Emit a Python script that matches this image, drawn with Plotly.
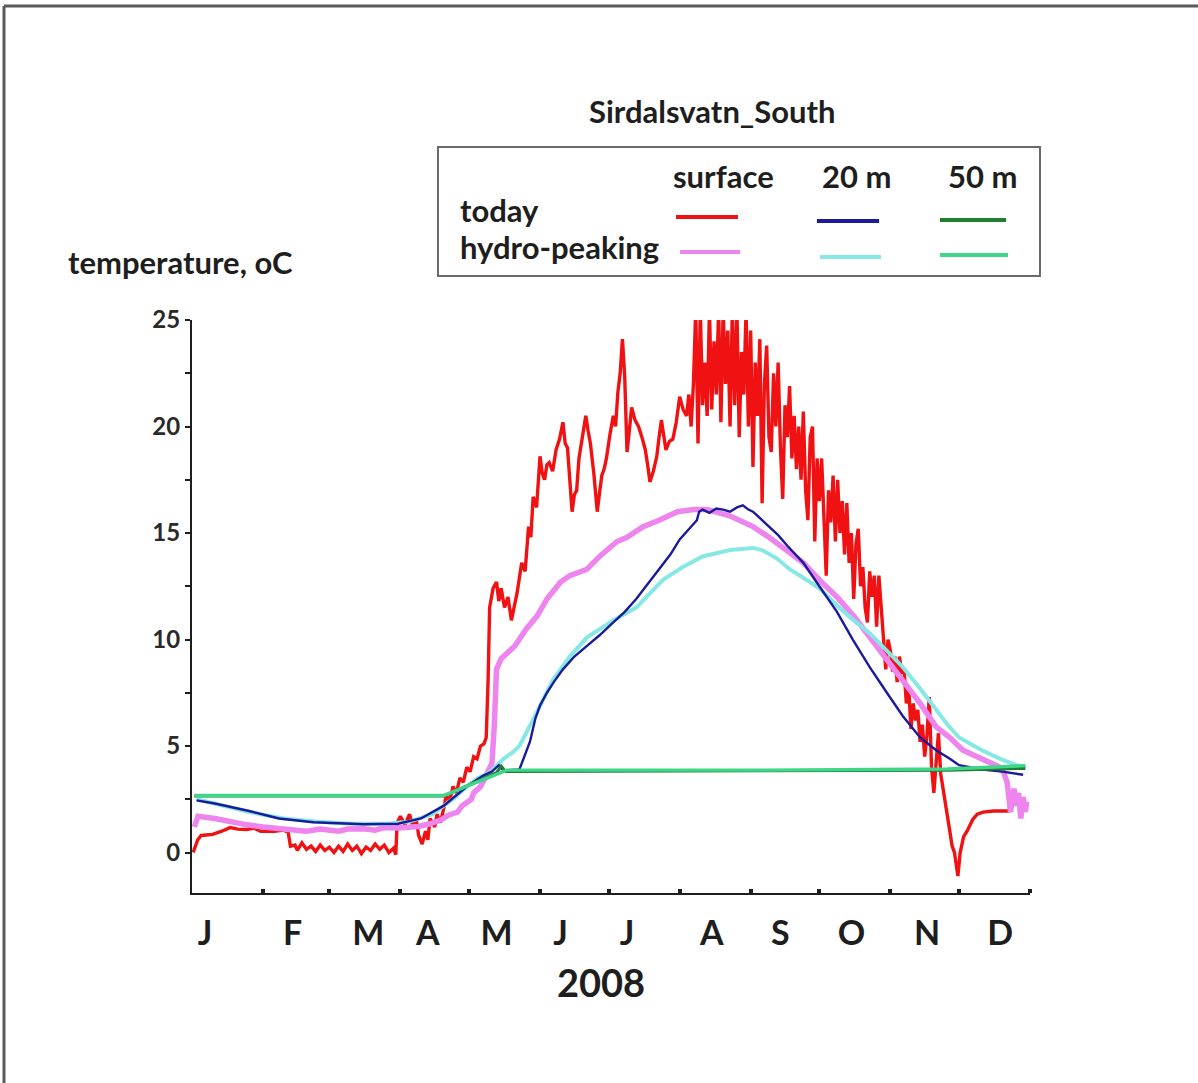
import plotly.graph_objects as go

# ---------------------------------------------------------------------------
# Daily water temperature, Sirdalsvatn (south basin), 2008.
# Day = day of year (0 = 1 Jan). Values in degrees C.
# ---------------------------------------------------------------------------

# today, surface
red_pts = [
    (0.5, 0.0), (2.5, 0.6), (4, 0.8), (9, 0.85), (13, 1.0), (16.6, 1.17), (20, 1.1), (24, 1.08),
    (27, 1.15), (30, 1.0), (36, 1.0), (40, 1.05), (42, 0.95), (43, 0.3), (45, 0.35), (46, 0.1),
    (48, 0.45), (50, 0.15), (52, 0.3), (54, 0.05), (56, 0.35), (58, 0.1), (60, 0.25), (62, 0.0),
    (64, 0.3), (66, 0.05), (68, 0.4), (70, 0.1), (72, 0.3), (74, -0.05), (76, 0.25), (78, 0.1),
    (80, 0.4), (82, 0.15), (84, 0.35), (86, 0.0), (88, 0.2), (89, -0.1), (89.6, 1.4), (91, 1.7),
    (93, 1.3), (95, 1.8), (96.5, 1.2), (98, 1.5), (99, 0.8), (100.5, 0.4), (102, 1.0), (103, 0.6),
    (104, 1.6), (106, 1.2), (107, 1.8), (108.5, 1.4), (110, 2.1), (111, 2.7), (112.5, 2.4),
    (114, 3.1), (115.5, 2.8), (117, 3.5), (118.5, 3.3), (120, 4.0), (121.5, 3.8), (123, 4.5),
    (124.5, 4.4), (126, 5.0), (127.5, 5.1), (128.5, 5.4), (129.3, 8.0), (130, 11.5), (131.5, 12.4),
    (133, 12.7), (134, 11.8), (135, 12.4), (136.5, 11.5), (138, 12.0), (139.5, 10.9), (141, 11.6),
    (142, 12.2), (144, 13.6), (145.5, 13.2), (147, 15.3), (148, 14.8), (149, 16.7), (150.5, 16.2),
    (152, 18.6), (153, 17.8), (154, 17.5), (155, 18.2), (156, 18.3), (157.5, 17.9), (159, 18.9),
    (160.5, 19.4), (162, 20.2), (163, 19.2), (164, 19.0), (165, 17.5), (166, 16.0), (167, 16.8),
    (168, 17.0), (169, 18.5), (170.5, 19.6), (172, 20.5), (173, 19.8), (174, 19.2), (175.5, 17.8),
    (177, 16.0), (178, 16.9), (179, 17.7), (180, 18.0), (181, 18.5), (182.5, 19.6), (184, 20.5),
    (185, 20.0), (186, 21.6), (187, 22.5), (188, 24.1), (189, 22.3), (190, 18.8), (191, 19.8),
    (192, 20.9), (193.5, 20.3), (195, 20.0), (196.5, 19.5), (198, 18.9), (199, 18.2), (200, 17.4),
    (201.5, 17.9), (203, 18.6), (204, 19.5), (205, 20.3), (206, 19.6), (207, 18.9), (208.5, 19.3),
    (210, 19.4), (211.5, 20.2), (213, 21.4), (214.5, 20.8), (216, 20.5), (217, 21.5), (218, 20.0),
    (219, 22.0), (220, 25.5), (221, 19.2), (222, 25.5), (223, 21.0), (224, 23.0), (225, 20.5),
    (226, 25.5), (227, 20.8), (228, 24.0), (229, 21.5), (230, 25.5), (231, 20.2), (232, 25.5),
    (233, 22.0), (234, 24.5), (235, 20.0), (236, 25.5), (237, 21.0), (238, 25.5), (239, 19.5),
    (240, 23.5), (241, 21.5), (242, 25.5), (243, 20.0), (244, 24.5), (245, 18.1), (246, 23.0),
    (247, 20.5), (248, 24.1), (249, 16.4), (250, 22.0), (251, 23.8), (252, 19.5), (253, 18.8),
    (254, 22.5), (255, 20.0), (256, 23.0), (257, 19.0), (258, 16.6), (259, 21.0), (260, 19.5),
    (261, 21.9), (262, 18.5), (263, 20.5), (264, 18.0), (265, 20.0), (266, 17.5), (267, 20.7),
    (268, 17.0), (269, 15.6), (270, 19.5), (271, 20.0), (272, 14.6), (273, 18.5), (274, 16.5),
    (275, 18.5), (276, 15.5), (277, 13.0), (278, 17.0), (279, 15.5), (280, 17.7), (281, 14.6),
    (282, 17.5), (283, 15.0), (284, 16.5), (285, 14.0), (286, 16.4), (287, 13.6), (288, 15.0),
    (289, 11.9), (290, 14.5), (291, 15.2), (292, 12.5), (293, 13.4), (294, 11.5), (295, 10.8),
    (296, 13.2), (297, 12.0), (298, 13.0), (299, 10.6), (300, 13.0), (301, 11.5), (302, 10.5),
    (303, 8.6), (304, 10.0), (305, 9.5), (306, 8.5), (307, 9.2), (308, 8.0), (309, 9.2), (310, 8.4),
    (311, 8.6), (312, 7.0), (313, 7.8), (314, 5.8), (315, 7.0), (316, 6.2), (317, 6.7), (318, 5.2),
    (319, 6.0), (320, 4.5), (321, 5.5), (322, 7.3), (323, 4.0), (324, 2.8), (325, 4.5), (326, 5.6),
    (327, 3.7), (328, 3.0), (329, 2.2), (330, 1.5), (331, 0.75), (332, 0.3), (333, 0.0), (334, -0.6),
    (334.5, -1.1), (335.5, 0.0), (337, 0.75), (338.5, 1.0), (341, 1.55), (343, 1.8), (345.5, 1.9),
    (350, 1.95), (357, 1.95),
]

# hydro-peaking, surface
pink_pts = [
    (1, 1.2), (2.6, 1.7), (10, 1.6), (16.6, 1.45), (24, 1.3), (31, 1.2), (37, 1.15), (43, 1.08),
    (50, 1.0), (56, 1.1), (60, 1.05), (64, 1.0), (68, 1.1), (75, 1.12), (80, 1.05), (84, 1.17),
    (90, 1.15), (95, 1.2), (99, 1.22), (104, 1.35), (109, 1.55), (112, 1.75), (116, 1.9),
    (118, 2.2), (122, 2.5), (123, 2.8), (126, 3.1), (128, 3.5), (129, 3.75), (131, 4.2), (132, 5.9),
    (133, 8.6), (135, 9.1), (141, 9.7), (146, 10.5), (150.7, 11.1), (155, 11.9), (161, 12.7),
    (165, 13.0), (172.5, 13.3), (178, 13.9), (185.6, 14.6), (190, 14.8), (197, 15.3), (204, 15.6),
    (212, 16.0), (219, 16.1), (225, 16.1), (235, 15.8), (245, 15.3), (252, 14.8), (260, 14.2),
    (267, 13.6), (274, 12.8), (281.7, 12.0), (289, 11.1), (296, 10.1), (303.5, 9.1), (310.5, 8.1),
    (318, 7.0), (325, 5.9), (331, 5.4), (336.7, 4.8), (342.8, 4.5), (348, 4.2), (353, 4.0),
    (354.5, 3.75), (356, 3.3), (357.5, 1.9), (359, 3.0), (360, 2.2), (361, 2.8), (362, 1.6),
    (363, 2.6), (364, 1.9), (364.5, 2.4),
]

# today, 20 m
blue_pts = [
    (2, 2.45), (10, 2.3), (25, 1.95), (38, 1.6), (53, 1.42), (62, 1.38), (75, 1.33), (90, 1.35),
    (100, 1.6), (110, 2.2), (120, 3.1), (127, 3.6), (131, 3.8), (134, 4.1), (136, 3.85),
    (143, 3.9), (145, 4.5), (147.6, 5.2), (150, 6.3), (152, 6.9), (155, 7.5), (158, 8.0),
    (162, 8.6), (167, 9.2), (172.5, 9.7), (178, 10.2), (184, 10.8), (189, 11.3), (194, 11.9),
    (199, 12.6), (204, 13.3), (209, 14.0), (213, 14.7), (217, 15.2), (220.5, 15.6), (221.5, 16.0),
    (223, 16.1), (226, 15.95), (229, 16.15), (232, 16.1), (235, 16.0), (238, 16.2), (240.6, 16.3),
    (243, 16.1), (245, 16.0), (247, 15.8), (249, 15.6), (252, 15.3), (256, 14.9), (260, 14.4),
    (267, 13.6), (274, 12.5), (281.7, 11.3), (288.6, 10.0), (296, 8.7), (303.5, 7.5),
    (310.5, 6.4), (318, 5.4), (325, 4.8), (331, 4.4), (335, 4.1), (345, 3.9), (354, 3.8),
    (363, 3.65),
]

# hydro-peaking, 20 m
cyan_pts = [
    (2, 2.5), (10, 2.3), (25, 1.9), (40, 1.6), (55, 1.45), (70, 1.35), (85, 1.35), (95, 1.45),
    (105, 1.8), (110, 2.2), (115, 2.6), (120, 3.1), (125, 3.5), (130, 3.75), (133, 4.1),
    (136, 4.4), (140, 4.7), (143, 5.0), (150.7, 6.6), (157.6, 8.1), (165, 9.2), (172.5, 10.1),
    (184, 10.9), (194, 11.5), (205.7, 12.8), (214.4, 13.4), (223, 13.9), (235, 14.2), (245, 14.3),
    (249, 14.2), (255.5, 13.8), (261, 13.3), (267, 12.9), (274, 12.4), (281.7, 11.6), (289, 10.9),
    (296, 10.3), (303, 9.5), (310.5, 8.7), (318, 7.7), (325, 6.7), (330, 6.0), (335, 5.4),
    (345, 4.8), (353, 4.4), (360, 4.1), (364, 4.0),
]

# today, 50 m
dkgreen_pts = [(1, 2.65), (110, 2.65), (133, 3.75), (135, 4.05), (137, 3.8), (250, 3.82), (330, 3.86), (364, 3.95)]

# hydro-peaking, 50 m
green_pts = [(1, 2.68), (110, 2.68), (137.5, 3.87), (250, 3.87), (330, 3.92), (364, 4.08)]

# axis labelling
month_letters = ["J", "F", "M", "A", "M", "J", "J", "A", "S", "O", "N", "D"]
month_label_days = [5.7, 44, 77, 103, 133, 161, 190, 227, 257, 288, 321, 353]
month_start_days = [31, 60, 91, 121, 152, 182, 213, 244, 274, 305, 335, 366]
y_major = [0, 5, 10, 15, 20, 25]
y_minor = [2.5, 7.5, 12.5, 17.5, 22.5]

RED, PINK, BLUE, CYAN, DKGREEN, GREEN = "#f01212", "#ee84ee", "#1a1a9a", "#86e8e4", "#1f7f2f", "#3fd68a"
series = [
    ("today, surface", red_pts, RED, 3.4),
    ("hydro-peaking, surface", pink_pts, PINK, 5.5),
    ("hydro-peaking, 20 m", cyan_pts, CYAN, 4.0),
    ("today, 20 m", blue_pts, BLUE, 2.4),
    ("today, 50 m", dkgreen_pts, DKGREEN, 3.0),
    ("hydro-peaking, 50 m", green_pts, GREEN, 3.4),
]

# ---------------------------------------------------------------------------
W, H = 1198, 1083
L, R, T, B = 192, 168, 320, 190
PW, PH = W - L - R, H - T - B


def px(x):
    """page pixel x -> paper coordinate"""
    return (x - L) / PW


def py(y):
    """page pixel y -> paper coordinate"""
    return (H - B - y) / PH


FONT = "Lato"
INK = "#1e1e1e"

fig = go.Figure()
for name, pts, col, lw in series:
    fig.add_trace(go.Scatter(
        x=[p[0] for p in pts], y=[p[1] for p in pts], name=name, mode="lines",
        line=dict(color=col, width=lw), showlegend=False, hoverinfo="skip",
    ))

shapes = []
annotations = []

# page frame (top and left edges)
shapes.append(dict(type="line", xref="paper", yref="paper", x0=px(4), x1=px(1198), y0=py(6), y1=py(6),
                   line=dict(color="#5a5a5a", width=3)))
shapes.append(dict(type="line", xref="paper", yref="paper", x0=px(4), x1=px(4), y0=py(6), y1=py(1083),
                   line=dict(color="#5a5a5a", width=3)))

# legend box
shapes.append(dict(type="rect", xref="paper", yref="paper", x0=px(438), x1=px(1040), y0=py(147), y1=py(276),
                   line=dict(color="#6a6a6a", width=2), fillcolor="rgba(0,0,0,0)"))

legend_font = dict(family=FONT, size=31, color=INK, weight="bold")
for txt, cx in [("surface", 723), ("20 m", 856), ("50 m", 982)]:
    annotations.append(dict(text=txt, x=px(cx), y=py(176), xref="paper", yref="paper", showarrow=False,
                            xanchor="center", yanchor="middle", font=legend_font))
for txt, cy in [("today", 210), ("hydro-peaking", 247)]:
    annotations.append(dict(text=txt, x=px(458), y=py(cy), xref="paper", yref="paper", showarrow=False,
                            xanchor="left", yanchor="middle", font=legend_font))

legend_samples = [
    (RED, 676, 738, 217), (BLUE, 817, 879, 221), (DKGREEN, 940, 1006, 220),
    (PINK, 680, 740, 252), (CYAN, 820, 881, 257), (GREEN, 940, 1008, 255),
]
for col, x0, x1, yy in legend_samples:
    shapes.append(dict(type="line", xref="paper", yref="paper", x0=px(x0), x1=px(x1), y0=py(yy), y1=py(yy),
                       line=dict(color=col, width=4)))

# titles
annotations.append(dict(text="Sirdalsvatn_South", x=px(712), y=py(111), xref="paper", yref="paper",
                        showarrow=False, xanchor="center", yanchor="middle",
                        font=dict(family=FONT, size=31, color=INK, weight="bold")))
annotations.append(dict(text="temperature, oC", x=px(66), y=py(262), xref="paper", yref="paper",
                        showarrow=False, xanchor="left", yanchor="middle",
                        font=dict(family=FONT, size=31, color=INK, weight="bold")))
annotations.append(dict(text="2008", x=px(601), y=py(982), xref="paper", yref="paper",
                        showarrow=False, xanchor="center", yanchor="middle",
                        font=dict(family=FONT, size=38, color=INK, weight="bold")))

fig.update_layout(
    width=W, height=H,
    margin=dict(l=L, r=R, t=T, b=B, pad=0),
    paper_bgcolor="white", plot_bgcolor="white",
    showlegend=False,
    shapes=shapes, annotations=annotations,
    xaxis=dict(
        range=[0, 366], showgrid=False, zeroline=False,
        showline=True, linecolor="#1e1e1e", linewidth=2,
        tickmode="array", tickvals=month_label_days, ticktext=month_letters, ticks="",
        tickfont=dict(family=FONT, size=34, color=INK, weight="bold"),
        ticklabelstandoff=9,
        minor=dict(tickmode="array", tickvals=month_start_days, ticks="inside",
                   ticklen=4, tickwidth=4, tickcolor="#1e1e1e"),
    ),
    yaxis=dict(
        range=[-1.9, 25], showgrid=False, zeroline=False,
        showline=True, linecolor="#1e1e1e", linewidth=2,
        tickmode="array", tickvals=y_major, ticks="outside", ticklen=5, tickwidth=2, tickcolor="#1e1e1e",
        tickfont=dict(family=FONT, size=24, color="#2a2a2a", weight="bold"),
        minor=dict(tickmode="array", tickvals=y_minor, ticks="outside",
                   ticklen=5, tickwidth=2, tickcolor="#1e1e1e"),
    ),
)

fig.write_html("out.html")
